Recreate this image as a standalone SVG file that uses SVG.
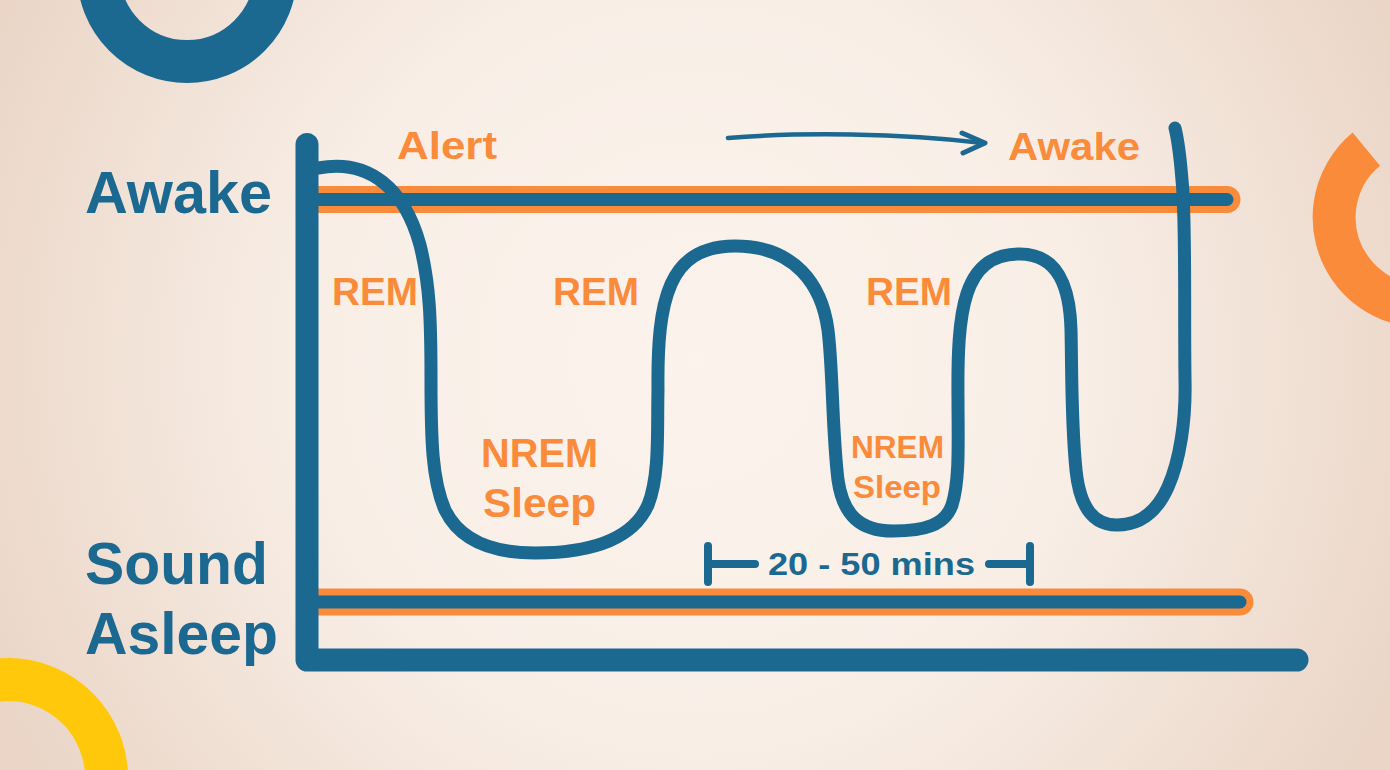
<svg xmlns="http://www.w3.org/2000/svg" width="1390" height="770" viewBox="0 0 1390 770">
  <defs>
    <radialGradient id="bg" gradientUnits="userSpaceOnUse" cx="695" cy="360" r="780">
      <stop offset="0" stop-color="#FBF3EC"/>
      <stop offset="0.5" stop-color="#F8EEE6"/>
      <stop offset="1" stop-color="#EAD5C6"/>
    </radialGradient>
    <style>
      .blue { fill: #1B6891; }
      .orange { fill: #FA8B3A; }
      .lbl { font-family: "Liberation Sans", Arial, sans-serif; font-weight: 700; }
      .ol { stroke: #FA8B3A; stroke-width: 27; stroke-linecap: round; fill: none; }
      .bl { stroke: #1B6891; stroke-width: 13; stroke-linecap: round; fill: none; }
      .axis { stroke: #1B6891; stroke-width: 23; stroke-linecap: round; stroke-linejoin: round; fill: none; }
      .curve { stroke: #1B6891; stroke-width: 13; stroke-linecap: round; stroke-linejoin: round; fill: none; }
      .brk { stroke: #1B6891; stroke-width: 8; stroke-linecap: round; fill: none; }
    </style>
  </defs>

  <rect x="0" y="0" width="1390" height="770" fill="url(#bg)"/>

  <g id="decor">
    <circle cx="187" cy="-27" r="88.5" fill="none" stroke="#1B6891" stroke-width="43"/>
    <path d="M1366.3,149.2 A88.5,88.5 0 0 0 1466,294.6" fill="none" stroke="#FA8B3A" stroke-width="43"/>
    <circle cx="8" cy="778" r="98.5" fill="none" stroke="#FFC80B" stroke-width="43"/>
  </g>

  <g id="level-lines">
    <line class="ol" x1="312" y1="199.5" x2="1227" y2="199.5"/>
    <line class="bl" x1="312" y1="199.5" x2="1227" y2="199.5"/>
    <line class="ol" x1="312" y1="602" x2="1240" y2="602"/>
    <line class="bl" x1="312" y1="602" x2="1240" y2="602"/>
  </g>

  <g id="axes">
    <path class="axis" d="M307,144.5 L307,660 L1297,660"/>
  </g>

  <g id="connectors">
    <path class="curve" d="M318,168 C370,158 405,190 420,245 C430,285 431,320 431,380 C431,440 432,480 445,510 C462,545 500,553 535,553 C580,553 630,545 648,505 C660,475 657,430 658,390 C657,300 668,246 735,246 C795,246 822,285 828,330 C833,370 832,430 838,480 C843,515 860,531 893,531 C925,531 945,525 952,505 C960,480 958,440 958,400 C957,310 963,255 1018,254 C1060,253 1070,290 1071,330 C1072,370 1071,420 1076,470 C1080,510 1095,525 1117,525 C1145,525 1160,505 1168,487 C1180,460 1186,420 1185,380 C1184,300 1186,220 1182,180 C1180,155 1178,140 1175,128"/>
    <path d="M728,138 C800,132 900,133 983,143" fill="none" stroke="#1B6891" stroke-width="4.5" stroke-linecap="round"/>
    <path d="M962,133 L985,143 L963,153" fill="none" stroke="#1B6891" stroke-width="5" stroke-linecap="round" stroke-linejoin="round"/>
  </g>

  <g id="bracket">
    <line class="brk" x1="708" y1="546" x2="708" y2="582"/>
    <line class="brk" x1="708" y1="564" x2="755" y2="564"/>
    <line class="brk" x1="1030" y1="546" x2="1030" y2="582"/>
    <line class="brk" x1="989" y1="564" x2="1030" y2="564"/>
  </g>

  <g id="label-awake-axis"><text class="lbl blue" x="85" y="213" font-size="59" textLength="187" lengthAdjust="spacingAndGlyphs">Awake</text></g>
  <g id="label-sound-asleep">
    <text class="lbl blue" x="85" y="584" font-size="59" textLength="183" lengthAdjust="spacingAndGlyphs">Sound</text>
    <text class="lbl blue" x="85" y="654" font-size="59" textLength="193" lengthAdjust="spacingAndGlyphs">Asleep</text>
  </g>
  <g id="label-alert"><text class="lbl orange" x="397" y="159" font-size="38" textLength="100" lengthAdjust="spacingAndGlyphs">Alert</text></g>
  <g id="label-awake-top"><text class="lbl orange" x="1008" y="160" font-size="39" textLength="132" lengthAdjust="spacingAndGlyphs">Awake</text></g>
  <g id="label-rem-1"><text class="lbl orange" x="332" y="305" font-size="39" textLength="86" lengthAdjust="spacingAndGlyphs">REM</text></g>
  <g id="label-rem-2"><text class="lbl orange" x="553" y="305" font-size="39" textLength="86" lengthAdjust="spacingAndGlyphs">REM</text></g>
  <g id="label-rem-3"><text class="lbl orange" x="866" y="305" font-size="39" textLength="86" lengthAdjust="spacingAndGlyphs">REM</text></g>
  <g id="label-nrem-1">
    <text class="lbl orange" x="481" y="467" font-size="41" textLength="117" lengthAdjust="spacingAndGlyphs">NREM</text>
    <text class="lbl orange" x="483" y="517" font-size="41" textLength="113" lengthAdjust="spacingAndGlyphs">Sleep</text>
  </g>
  <g id="label-nrem-2">
    <text class="lbl orange" x="851" y="458" font-size="32" textLength="93" lengthAdjust="spacingAndGlyphs">NREM</text>
    <text class="lbl orange" x="853" y="498" font-size="32" textLength="88" lengthAdjust="spacingAndGlyphs">Sleep</text>
  </g>
  <g id="label-duration"><text class="lbl blue" x="768" y="575" font-size="31" textLength="207" lengthAdjust="spacingAndGlyphs">20 - 50 mins</text></g>
</svg>
